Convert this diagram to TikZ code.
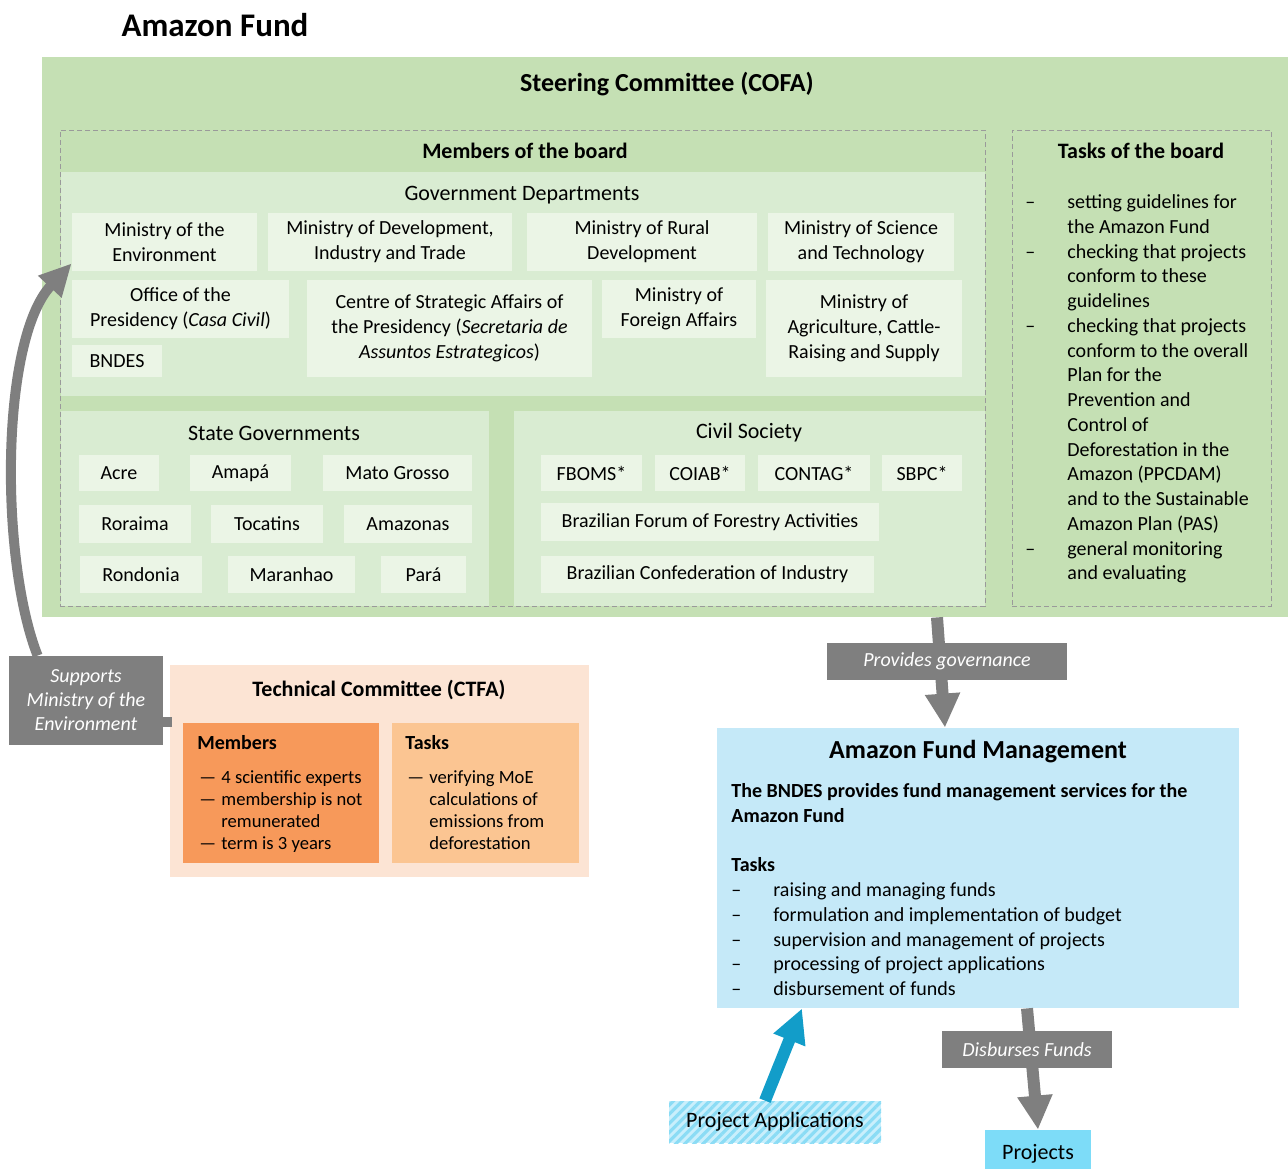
\documentclass[tikz,border=0pt]{standalone}
\usepackage{fontspec}
\setmainfont{Carlito}
\usetikzlibrary{arrows.meta, positioning, fit, patterns.meta}
\definecolor{cofagreen}{HTML}{C5E0B4}
\definecolor{deptgreen}{HTML}{D9ECD2}
\definecolor{itemgreen}{HTML}{EBF5E6}
\definecolor{boardgray}{HTML}{9A9A9A}
\definecolor{ctfapeach}{HTML}{FCE4D4}
\definecolor{memorange}{HTML}{F7995A}
\definecolor{taskorange}{HTML}{FBC592}
\definecolor{mgmtblue}{HTML}{C5E9F8}
\definecolor{projblue}{HTML}{7DDCF8}
\definecolor{appbg}{HTML}{C9EFFC}
\definecolor{stripeblue}{HTML}{8BDCF5}
\definecolor{applyblue}{HTML}{129DC9}
\definecolor{flowgray}{HTML}{7F7F7F}
\tikzset{%
	region/.style={inner sep=0pt, draw=none},
	board/.style={
		inner sep=0pt,
		draw=boardgray,
		line width=0.5pt,
		dash pattern=on 2.5pt off 1.5pt
	},
	heading/.style={font=\fontsize{11}{13}\selectfont\bfseries},
	section/.style={font=\fontsize{11}{13}\selectfont},
	item/.style={inner sep=0pt, fill=itemgreen},
	itemtext/.style={
		inner sep=0pt,
		align=center,
		font=\fontsize{10}{12.5}\selectfont
	},
	bigtext/.style={inner sep=0pt, font=\fontsize{11}{13}\selectfont},
	listtext/.style={inner sep=0pt, anchor=north west, font=\fontsize{10}{12.37}\selectfont},
	smalllist/.style={inner sep=0pt, anchor=north west, font=\fontsize{9.3}{11.15}\selectfont},
	flowlabel/.style={inner sep=0pt, fill=flowgray},
	flowtext/.style={
		inner sep=0pt,
		text=white,
		align=center,
		font=\fontsize{10}{12}\selectfont\itshape
	},
	flowline/.style={draw=flowgray, line width=6pt},
	flowarrow/.style={flowline, -{Triangle[width=16.5pt, length=17pt]}},
	supportarrow/.style={draw=flowgray, line width=5pt, -{Triangle[width=15pt, length=16pt]}},
	applyarrow/.style={draw=applyblue, line width=6pt, -{Triangle[width=16pt, length=17pt]}},
}

\begin{document}
\begin{tikzpicture}[x=0.5pt, y=-0.5pt]
	\useasboundingbox (0,0) rectangle (1288,1168);

	\node[font=\fontsize{16.5}{20}\selectfont\bfseries] (title) at (215,25) {Amazon Fund};

	% steering committee
	\node[region, fill=cofagreen, fit={(42,57) (1288,617)}] (cofa) {};
	\node[font=\fontsize{13}{15}\selectfont\bfseries] (cofahead) at (667,84) {Steering Committee (COFA)};

	\node[region, fill=deptgreen, fit={(61,172) (985,396)}] (gov) {};
	\node[region, fill=deptgreen, fit={(61,411) (489,606)}] (state) {};
	\node[region, fill=deptgreen, fit={(514,411) (985,606)}] (civil) {};
	\node[board, fit={(60,130) (985,606)}] (members) {};
	\node[heading] (membershead) at (525,151) {Members of the board};

	% government departments
	\node[section] (govhead) at (522,195) {Government Departments};
	\node[item, fit={(72,213) (257,271)}, label={[itemtext]center:{Ministry of the\\Environment}}] (moe) {};
	\node[item, fit={(268,213) (512,271)}, label={[itemtext]center:{Ministry of Development,\\Industry and Trade}}] (mdit) {};
	\node[item, fit={(527,213) (757,271)}, label={[itemtext]center:{Ministry of Rural\\Development}}] (mrd) {};
	\node[item, fit={(768,213) (954,271)}, label={[itemtext]center:{Ministry of Science\\and Technology}}] (mst) {};
	\node[item, fit={(72,280) (289,338)}, label={[itemtext]center:{Office of the\\Presidency (\textit{Casa Civil})}}] (casa) {};
	\node[item, fit={(72,345) (162,377)}, label={[itemtext]center:BNDES}] (bndes) {};
	\node[item, fit={(307,280) (592,377)}, label={[itemtext]center:{Centre of Strategic Affairs of\\the Presidency (\textit{Secretaria de}\\\textit{Assuntos Estrategicos})}}] (sae) {};
	\node[item, fit={(602,280) (756,338)}, label={[itemtext]center:{Ministry of\\Foreign Affairs}}] (mfa) {};
	\node[item, fit={(766,280) (962,377)}, label={[itemtext]center:{Ministry of\\Agriculture, Cattle-\\Raising and Supply}}] (mapa) {};

	% state governments
	\node[section] (statehead) at (274,433) {State Governments};
	\node[item, fit={(79,455) (159,491)}, label={[itemtext]center:Acre}] (acre) {};
	\node[item, fit={(190,455) (291,491)}, label={[itemtext]center:Amapá}] (amapa) {};
	\node[item, fit={(323,455) (472,491)}, label={[itemtext]center:Mato Grosso}] (mato) {};
	\node[item, fit={(79,505) (191,543)}, label={[itemtext]center:Roraima}] (roraima) {};
	\node[item, fit={(211,505) (323,543)}, label={[itemtext]center:Tocatins}] (tocatins) {};
	\node[item, fit={(344,505) (472,543)}, label={[itemtext]center:Amazonas}] (amazonas) {};
	\node[item, fit={(80,556) (202,593)}, label={[itemtext]center:Rondonia}] (rondonia) {};
	\node[item, fit={(228,556) (355,593)}, label={[itemtext]center:Maranhao}] (maranhao) {};
	\node[item, fit={(381,556) (466,593)}, label={[itemtext]center:Pará}] (para) {};

	% civil society
	\node[section] (civilhead) at (749,433) {Civil Society};
	\node[item, fit={(541,455) (642,491)}, label={[itemtext]center:FBOMS*}] (fboms) {};
	\node[item, fit={(655,455) (745,491)}, label={[itemtext]center:COIAB*}] (coiab) {};
	\node[item, fit={(758,455) (870,491)}, label={[itemtext]center:CONTAG*}] (contag) {};
	\node[item, fit={(882,455) (962,491)}, label={[itemtext]center:SBPC*}] (sbpc) {};
	\node[item, fit={(541,503) (879,541)}, label={[itemtext]center:Brazilian Forum of Forestry Activities}] (forum) {};
	\node[item, fit={(541,556) (874,593)}, label={[itemtext]center:Brazilian Confederation of Industry}] (cni) {};

	% tasks of the board
	\node[board, fit={(1012,130) (1271,606)}] (tasks) {};
	\node[heading] (taskshead) at (1141,151) {Tasks of the board};
	\node[listtext] (tasklist) at (1025,191) {\begin{tabular}{@{}p{21pt}@{}l@{}}
		–& setting guidelines for\\
		 & the Amazon Fund\\
		–& checking that projects\\
		 & conform to these\\
		 & guidelines\\
		–& checking that projects\\
		 & conform to the overall\\
		 & Plan for the\\
		 & Prevention and\\
		 & Control of\\
		 & Deforestation in the\\
		 & Amazon (PPCDAM)\\
		 & and to the Sustainable\\
		 & Amazon Plan (PAS)\\
		–& general monitoring\\
		 & and evaluating
	\end{tabular}};

	% technical committee
	\node[region, fill=ctfapeach, fit={(170,665) (589,877)}] (ctfa) {};
	\node[heading] (ctfahead) at (379,690) {Technical Committee (CTFA)};
	\node[region, fill=memorange, fit={(183,723) (379,863)}] (ctfamem) {};
	\node[region, fill=taskorange, fit={(392,723) (579,863)}] (ctfatask) {};
	\node[inner sep=0pt, anchor=base west, font=\fontsize{10}{12}\selectfont\bfseries] (memhead) at (197,749) {Members};
	\node[smalllist] (memlist) at (199,767) {\begin{tabular}{@{}p{11pt}@{}l@{}}
		—& 4 scientific experts\\
		—& membership is not\\
		 & remunerated\\
		—& term is 3 years
	\end{tabular}};
	\node[inner sep=0pt, anchor=base west, font=\fontsize{10}{12}\selectfont\bfseries] (taskhead) at (405,749) {Tasks};
	\node[smalllist] (tasklist2) at (407,767) {\begin{tabular}{@{}p{11pt}@{}l@{}}
		—& verifying MoE\\
		 & calculations of\\
		 & emissions from\\
		 & deforestation
	\end{tabular}};

	% fund management
	\node[region, fill=mgmtblue, fit={(717,728) (1239,1008)}] (mgmt) {};
	\node[font=\fontsize{13}{15}\selectfont\bfseries] (mgmthead) at (978,752) {Amazon Fund Management};
	\node[listtext] (mgmtlist) at (731,780) {\begin{tabular}{@{}p{21pt}@{}l@{}}
		\multicolumn{2}{@{}l@{}}{\bfseries The BNDES provides fund management services for the}\\
		\multicolumn{2}{@{}l@{}}{\bfseries Amazon Fund}\\
		\\
		\multicolumn{2}{@{}l@{}}{\bfseries Tasks}\\
		–& raising and managing funds\\
		–& formulation and implementation of budget\\
		–& supervision and management of projects\\
		–& processing of project applications\\
		–& disbursement of funds
	\end{tabular}};

	\node[inner sep=0pt, fill=appbg, postaction={pattern={Lines[angle=45, distance=3.2pt, line width=1.6pt]}, pattern color=stripeblue}, fit={(669,1101) (881,1143)}, label={[bigtext]center:Project Applications}] (apps) {};
	\node[inner sep=0pt, fill=projblue, fit={(985,1130) (1091,1177)}, label={[bigtext]center:Projects}] (proj) {};

	% connectors
	\node[flowlabel, fit={(9,656) (163,745)}, label={[flowtext]center:{Supports\\Ministry of the\\Environment}}] (sup) {};
	\coordinate (ctfain) at (172,722);
	\draw[flowline, line width=5pt] (sup.east |- ctfain) -- (ctfain);
	\draw[supportarrow] ([xshift=14.5pt]sup.north west) .. controls (0,560) and (0,340) .. ([yshift=4pt]moe.south west);

	\draw[flowarrow] ([xshift=136pt]cofa.south) -- ([xshift=-16.5pt]mgmt.north);
	\node[flowlabel, fit={(827,643) (1067,680)}, label={[flowtext]center:Provides governance}] (govlabel) {};

	\draw[flowarrow] ([xshift=24.5pt]mgmt.south) -- (proj.north);
	\node[flowlabel, fit={(942,1031) (1112,1068)}, label={[flowtext]center:Disburses Funds}] (disblabel) {};

	\draw[applyarrow] ([xshift=-5pt]apps.north) -- ([xshift=-88pt]mgmt.south);

\end{tikzpicture}
\end{document}
